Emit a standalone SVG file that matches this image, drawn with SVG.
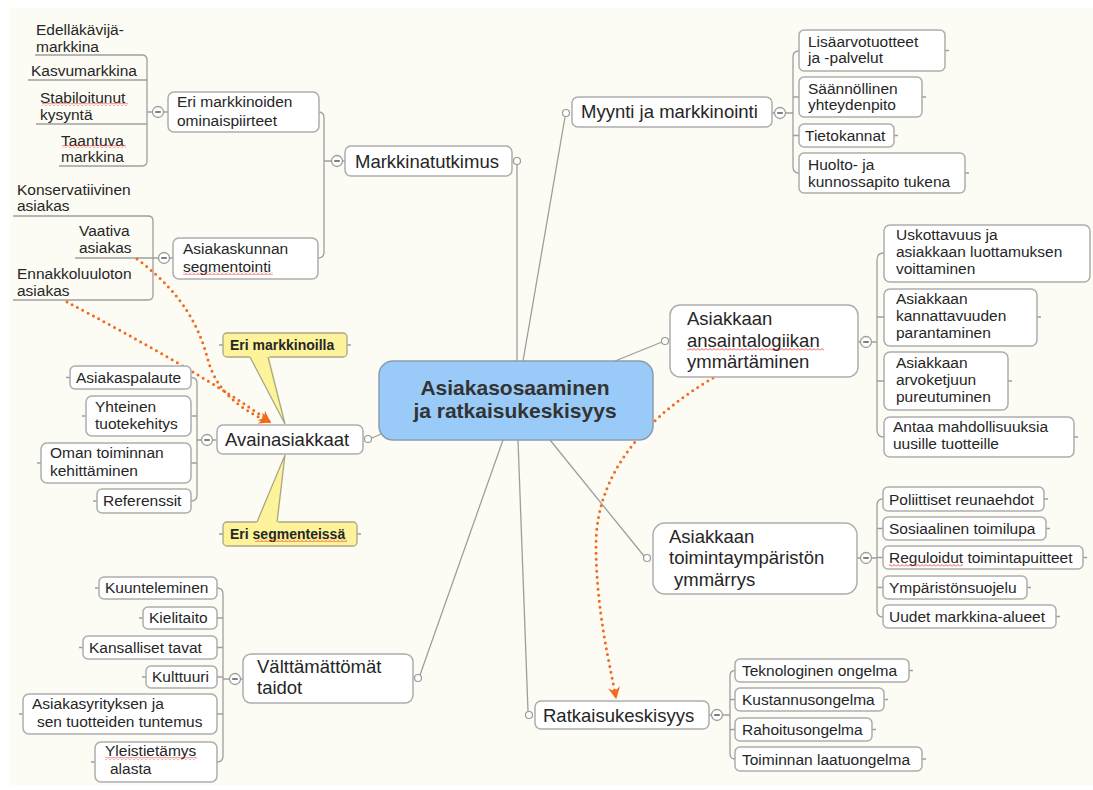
<svg xmlns="http://www.w3.org/2000/svg" width="1093" height="790" viewBox="0 0 1093 790">
<style>
.t{font-family:"Liberation Sans",Arial,sans-serif;font-size:15.5px;fill:#262626}
.tm{font-size:18.5px}
.tc{font-family:"Liberation Sans",Arial,sans-serif;font-size:21px;font-weight:bold;fill:#333;text-anchor:middle}
.tb{font-size:14px;font-weight:bold}
.box{fill:#fff;stroke:#ADADAD;stroke-width:1.5}
.call{fill:#FDF39B;stroke:#A9A78A;stroke-width:1.3}
.conn{fill:none;stroke:#9E9E9E;stroke-width:1.3}
.end{fill:#fff;stroke:#999;stroke-width:1.2}
.col{fill:#fff;stroke:#9E9E9E;stroke-width:1.3}
.minus{stroke:#555;stroke-width:1.5}
.rel{fill:none;stroke:#F26A1B;stroke-width:3;stroke-dasharray:0 6;stroke-linecap:round}
.sp{fill:url(#wave)}
</style>
<defs>
<pattern id="wave" width="4" height="3" patternUnits="userSpaceOnUse"><path d="M0,2.5 L2,0.5 L4,2.5" fill="none" stroke="#E22" stroke-width="0.8"/></pattern>
<marker id="arr" markerWidth="12" markerHeight="12" viewBox="0 0 10 10" refX="9" refY="5" orient="auto" markerUnits="userSpaceOnUse"><path d="M0,0 L10,5 L0,10 L3,5 z" fill="#F26A1B"/></marker>
<g id="colm"><circle r="5.5" class="col"/><line x1="-2.8" y1="0" x2="2.8" y2="0" class="minus"/></g>
</defs>
<rect width="1093" height="790" fill="#fff"/>
<rect x="10" y="8" width="1083" height="777" fill="#FCFCF5"/>

<g id="connectors">
<path class="conn" d="M517,164.5 V361 M565,117 L523,361 M662,342 L615,361 M550,440 L644,556 M518,440 L528,711 M503,440 L420,675 M372,438 L381,434"/>
<path class="conn" d="M319,112 Q324,112 324,118 V252 Q324,258 318,258 M324,161 H331.5 M342.5,161 H345"/>
<path class="conn" d="M35,55 H142 Q147,55 147,60 V161 Q147,166 142,166 H59 M28,80 H147 M36,124 H147 M147,112 H152.5 M163.5,112 H168"/>
<path class="conn" d="M13,216 H148 Q153,216 153,221 V295 Q153,300 148,300 H13 M75,258 H158.5 M169.5,258 H173"/>
<path class="conn" d="M772,113 H774.5 M785.5,113 H793 M799,51 Q793,51 793,57 V167 Q793,173 799,173 M793,97 H799 M793,135.5 H799"/>
<path class="conn" d="M858,342 H860.5 M871.5,342 H877 M884,253 Q877,253 877,260 V430 Q877,437 884,437 M877,317 H884 M877,381 H884"/>
<path class="conn" d="M857,558 H860.5 M871.5,558 H877 M883,499 Q877,499 877,505 V611 Q877,617 883,617 M877,528.5 H883 M877,557.5 H883 M877,587.5 H883"/>
<path class="conn" d="M709,715 H711.5 M722.5,715 H730 M735,670.5 Q730,670.5 730,676 V753.5 Q730,759 735,759 M730,699.5 H735 M730,729.5 H735"/>
<path class="conn" d="M217,440 H212.5 M201.5,440 H197 M191,377.5 Q197,377.5 197,383 V495 Q197,501 191,501 M197,416 H191 M197,463 H191"/>
<path class="conn" d="M243,679 H240.5 M229.5,679 H223 M217,588 Q223,588 223,594 V756 Q223,762 217,762 M223,618 H217 M223,647.5 H217 M223,677 H217 M223,714 H217"/>
<path class="conn" d="M945,50.5 h4 M922,97 h4 M894,135.5 h4 M965,173 h4 M1037,317 h4 M1008,381 h4 M1074,437 h4 M1044,499 h4 M1046,528.5 h4 M1083,557.5 h4 M1027,587.5 h4 M1056,616.5 h4 M909,670.5 h4 M884,699.5 h4 M872,729.5 h4 M922,759 h4 M70,377.5 h-4 M86,416 h-4 M41,463 h-4 M97,501 h-4 M99,588 h-4 M143,618 h-4 M83,647.5 h-4 M146,677 h-4 M23,714 h-4 M95,762 h-4 M223,345 h-4 M347,345 h4 M223,534 h-4 M357,534 h4"/>
<circle class="end" cx="517" cy="161" r="3.5"/>
<circle class="end" cx="566" cy="113" r="3.5"/>
<circle class="end" cx="665" cy="341" r="3.5"/>
<circle class="end" cx="647" cy="558" r="3.5"/>
<circle class="end" cx="529" cy="715" r="3.5"/>
<circle class="end" cx="418" cy="678" r="3.5"/>
<circle class="end" cx="368" cy="439" r="3.5"/>
<use href="#colm" x="337" y="161"/>
<use href="#colm" x="158" y="112"/>
<use href="#colm" x="164" y="258"/>
<use href="#colm" x="780" y="113"/>
<use href="#colm" x="866" y="342"/>
<use href="#colm" x="866" y="558"/>
<use href="#colm" x="717" y="715"/>
<use href="#colm" x="207" y="440"/>
<use href="#colm" x="235" y="679"/>
<path class="rel" d="M137,259 C185,295 200,330 208,360 C216,390 240,410 270,422" marker-end="url(#arr)"/>
<path class="rel" d="M67,302 C130,335 220,385 270,422" marker-end="url(#arr)"/>
<path class="rel" d="M713,378 C650,415 596,470 596,545 C596,610 610,665 616,698" marker-end="url(#arr)"/>
</g>

<g id="center">
<rect x="379" y="361" width="274" height="79" rx="14" fill="#9ACBF8" stroke="#8A9DB0" stroke-width="1.5"/>
<text class="tc" x="515" y="395">Asiakasosaaminen</text>
<text class="tc" x="515" y="418">ja ratkaisukeskisyys</text>
</g>

<g id="markkinatutkimus">
<rect class="box" x="345" y="146" width="167" height="30" rx="6"/>
<text class="t tm" x="355" y="168">Markkinatutkimus</text>
</g>
<g id="eri-markkinoiden">
<rect class="box" x="168" y="92" width="151" height="40" rx="6"/>
<text class="t" x="177" y="107">Eri markkinoiden</text>
<text class="t" x="177" y="126">ominaispiirteet</text>
</g>
<g id="edellakavija"><text class="t" x="36" y="35">Edelläkävijä-</text><text class="t" x="36" y="52">markkina</text></g>
<g id="kasvumarkkina"><text class="t" x="31" y="76">Kasvumarkkina</text></g>
<g id="stabiloitunut"><text class="t" x="40" y="103">Stabiloitunut</text><text class="t" x="40" y="120">kysyntä</text><rect class="sp" x="42" y="103" width="86" height="3"/></g>
<g id="taantuva"><text class="t" x="61" y="146">Taantuva</text><text class="t" x="61" y="162">markkina</text><rect class="sp" x="62" y="145" width="64" height="3"/></g>
<g id="asiakaskunnan">
<rect class="box" x="173" y="238" width="145" height="41" rx="6"/>
<text class="t" x="183" y="254">Asiakaskunnan</text>
<text class="t" x="183" y="272">segmentointi</text>
<rect class="sp" x="183" y="272" width="90" height="3"/>
</g>
<g id="konservatiivinen"><text class="t" x="17" y="195">Konservatiivinen</text><text class="t" x="17" y="211">asiakas</text></g>
<g id="vaativa"><text class="t" x="79" y="236">Vaativa</text><text class="t" x="79" y="253">asiakas</text></g>
<g id="ennakkoluuloton"><text class="t" x="17" y="279">Ennakkoluuloton</text><text class="t" x="17" y="296">asiakas</text></g>

<g id="myynti">
<rect class="box" x="572" y="97" width="200" height="30" rx="6"/>
<text class="t tm" x="581" y="118">Myynti ja markkinointi</text>
</g>
<g id="lisaarvo"><rect class="box" x="799" y="30" width="146" height="41" rx="5"/><text class="t" x="808" y="47">Lisäarvotuotteet</text><text class="t" x="808" y="63">ja -palvelut</text></g>
<g id="saannollinen"><rect class="box" x="799" y="77" width="123" height="40" rx="5"/><text class="t" x="808" y="94">Säännöllinen</text><text class="t" x="808" y="110">yhteydenpito</text></g>
<g id="tietokannat"><rect class="box" x="799" y="124" width="95" height="23" rx="5"/><text class="t" x="805" y="141">Tietokannat</text></g>
<g id="huolto"><rect class="box" x="799" y="153" width="166" height="40" rx="5"/><text class="t" x="808" y="170">Huolto- ja</text><text class="t" x="808" y="187">kunnossapito tukena</text></g>

<g id="ansaintalogiikka">
<rect class="box" x="670" y="305" width="188" height="72" rx="10"/>
<text class="t tm" x="687" y="325">Asiakkaan</text>
<text class="t tm" x="687" y="347">ansaintalogiikan</text>
<text class="t tm" x="687" y="368">ymmärtäminen</text>
<rect class="sp" x="687" y="348" width="137" height="3"/>
</g>
<g id="uskottavuus"><rect class="box" x="884" y="225" width="206" height="57" rx="6"/><text class="t" x="896" y="240">Uskottavuus ja</text><text class="t" x="896" y="257">asiakkaan luottamuksen</text><text class="t" x="896" y="274">voittaminen</text></g>
<g id="kannattavuus"><rect class="box" x="884" y="289" width="153" height="57" rx="6"/><text class="t" x="896" y="304">Asiakkaan</text><text class="t" x="896" y="321">kannattavuuden</text><text class="t" x="896" y="338">parantaminen</text></g>
<g id="arvoketju"><rect class="box" x="884" y="352" width="124" height="58" rx="6"/><text class="t" x="896" y="368">Asiakkaan</text><text class="t" x="896" y="385">arvoketjuun</text><text class="t" x="896" y="402">pureutuminen</text></g>
<g id="antaa"><rect class="box" x="884" y="417" width="190" height="40" rx="6"/><text class="t" x="893" y="432">Antaa mahdollisuuksia</text><text class="t" x="893" y="449">uusille tuotteille</text></g>

<g id="toimintaymparisto">
<rect class="box" x="653" y="523" width="204" height="71" rx="12"/>
<text class="t tm" x="669" y="543">Asiakkaan</text>
<text class="t tm" x="669" y="564">toimintaympäristön</text>
<text class="t tm" x="674" y="586">ymmärrys</text>
</g>
<g id="poliittiset"><rect class="box" x="883" y="487" width="161" height="24" rx="5"/><text class="t" x="889" y="505">Poliittiset reunaehdot</text></g>
<g id="sosiaalinen"><rect class="box" x="883" y="517" width="163" height="23" rx="5"/><text class="t" x="889" y="534">Sosiaalinen toimilupa</text></g>
<g id="reguloidut"><rect class="box" x="883" y="546" width="200" height="23" rx="5"/><text class="t" x="889" y="563">Reguloidut toimintapuitteet</text><rect class="sp" x="889" y="564" width="74" height="3"/></g>
<g id="ymparistonsuojelu"><rect class="box" x="883" y="576" width="144" height="23" rx="5"/><text class="t" x="889" y="593">Ympäristönsuojelu</text></g>
<g id="uudet"><rect class="box" x="883" y="605" width="173" height="23" rx="5"/><text class="t" x="889" y="622">Uudet markkina-alueet</text></g>

<g id="ratkaisukeskisyys">
<rect class="box" x="535" y="701" width="174" height="28" rx="6"/>
<text class="t tm" x="543" y="722">Ratkaisukeskisyys</text>
</g>
<g id="teknologinen"><rect class="box" x="735" y="659" width="174" height="23" rx="5"/><text class="t" x="742" y="676">Teknologinen ongelma</text></g>
<g id="kustannus"><rect class="box" x="735" y="688" width="149" height="23" rx="5"/><text class="t" x="742" y="705">Kustannusongelma</text></g>
<g id="rahoitus"><rect class="box" x="735" y="718" width="137" height="23" rx="5"/><text class="t" x="742" y="735">Rahoitusongelma</text></g>
<g id="laatu"><rect class="box" x="735" y="747" width="187" height="24" rx="5"/><text class="t" x="742" y="765">Toiminnan laatuongelma</text></g>

<g id="avainasiakkaat">
<rect class="box" x="217" y="425" width="146" height="29" rx="6"/>
<text class="t tm" x="225" y="446">Avainasiakkaat</text>
</g>
<g id="asiakaspalaute"><rect class="box" x="70" y="366" width="121" height="23" rx="5"/><text class="t" x="76" y="383">Asiakaspalaute</text></g>
<g id="yhteinen"><rect class="box" x="86" y="396" width="105" height="40" rx="6"/><text class="t" x="95" y="412">Yhteinen</text><text class="t" x="95" y="429">tuotekehitys</text></g>
<g id="oman"><rect class="box" x="41" y="443" width="150" height="40" rx="6"/><text class="t" x="50" y="458">Oman toiminnan</text><text class="t" x="50" y="476">kehittäminen</text></g>
<g id="referenssit"><rect class="box" x="97" y="489" width="94" height="24" rx="5"/><text class="t" x="103" y="506">Referenssit</text></g>

<g id="callout-markkinoilla">
<rect class="call" x="223" y="333" width="124" height="24" rx="4"/>
<polygon points="249,355 285,424 269,355" fill="#FDF39B"/>
<polyline points="250,357 285,424 268,357" fill="none" stroke="#A9A78A" stroke-width="1.3"/>
<text class="t tb" x="230" y="350">Eri markkinoilla</text>
</g>
<g id="callout-segmenteissa">
<rect class="call" x="223" y="522" width="134" height="24" rx="4"/>
<polygon points="256,524 285,455 278,524" fill="#FDF39B"/>
<polyline points="257,522 285,455 277,522" fill="none" stroke="#A9A78A" stroke-width="1.3"/>
<text class="t tb" x="230" y="539">Eri segmenteissä</text>
<rect class="sp" x="255" y="539" width="92" height="3"/>
</g>

<g id="valttamattomat">
<rect class="box" x="243" y="654" width="170" height="49" rx="8"/>
<text class="t tm" x="257" y="673">Välttämättömät</text>
<text class="t tm" x="257" y="694">taidot</text>
</g>
<g id="kuunteleminen"><rect class="box" x="99" y="577" width="118" height="22" rx="5"/><text class="t" x="105" y="593">Kuunteleminen</text></g>
<g id="kielitaito"><rect class="box" x="143" y="607" width="74" height="22" rx="5"/><text class="t" x="149" y="623">Kielitaito</text></g>
<g id="kansalliset"><rect class="box" x="83" y="636" width="134" height="23" rx="5"/><text class="t" x="89" y="653">Kansalliset tavat</text></g>
<g id="kulttuuri"><rect class="box" x="146" y="666" width="71" height="22" rx="5"/><text class="t" x="152" y="682">Kulttuuri</text></g>
<g id="asiakasyritys"><rect class="box" x="23" y="694" width="194" height="40" rx="6"/><text class="t" x="32" y="709">Asiakasyrityksen ja</text><text class="t" x="37" y="727">sen tuotteiden tuntemus</text></g>
<g id="yleistietamys"><rect class="box" x="95" y="742" width="122" height="40" rx="6"/><text class="t" x="105" y="756">Yleistietämys</text><text class="t" x="110" y="774">alasta</text><rect class="sp" x="105" y="757" width="92" height="3"/></g>
</svg>
